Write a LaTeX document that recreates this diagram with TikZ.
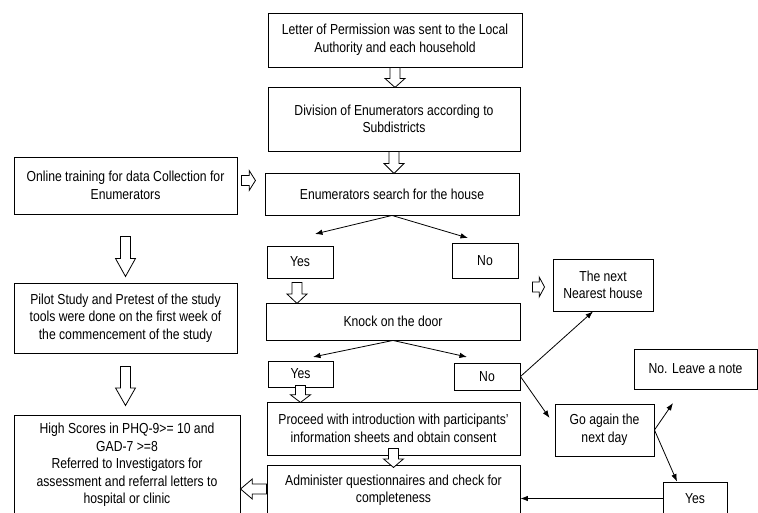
\documentclass[tikz,border=0pt]{standalone}
\usepackage{fontspec}
\setmainfont{Liberation Sans}[FakeStretch=0.84]
\usetikzlibrary{arrows.meta}
\tikzset{
    pics/harrow/.style={code={
        \draw[fill=white,line width=0.8pt](-5,0)--(-5,{0.55*#1})--(-10,{0.55*#1})--(0,#1)
        --(10,{0.55*#1})--(5,{0.55*#1})--(5,0)--cycle;}}
}
\begin{document}
\begin{tikzpicture}[>={Latex[length=7.5pt,width=5.5pt]},x=1pt,y=-1pt,
    box/.style={draw,line width=0.9pt,align=center,inner sep=1pt,
        font=\fontsize{14.5}{17.5}\selectfont},
    link/.style={->,line width=0.8pt}]
        \clip(0,0)rectangle(758,513);
        % middle column
        \node[box,minimum width=254,minimum height=54](letter)at(395,40)
            {Letter of Permission was sent to the Local\\Authority and each household};
        \node[box,minimum width=252,minimum height=64](division)at(394,119)
            {Division of Enumerators according to\\Subdistricts};
        \node[box,minimum width=254,minimum height=42](search)at(392,194)
            {Enumerators search for the house};
        \node[box,minimum width=66,minimum height=32](yes1)at(300,262){Yes};
        \node[box,minimum width=66,minimum height=35](no1)at(485,260.5){No};
        \node[box,minimum width=254,minimum height=37](knock)at(393,321.5){Knock on the door};
        \node[box,minimum width=65,minimum height=26](yes2)at(300.5,374){Yes};
        \node[box,minimum width=66,minimum height=27](no2)at(487,376.5){No};
        \node[box,minimum width=253,minimum height=53](proceed)at(393.5,428.5)
            {Proceed with introduction with participants'\\information sheets and obtain consent};
        \node[box,minimum width=253,minimum height=50](admin)at(393.5,490)
            {Administer questionnaires and check for\\completeness};
        % left column
        \node[box,minimum width=223,minimum height=57](online)at(125.5,185.5)
            {Online training for data Collection for\\Enumerators};
        \node[box,minimum width=223,minimum height=70](pilot)at(125.5,318)
            {Pilot Study and Pretest of the study\\tools were done on the first week of\\the commencement of the study};
        \node[box,minimum width=226,minimum height=100](high)at(127,465)
            {High Scores in PHQ-9>= 10 and\\GAD-7 >=8\\Referred to Investigators for\\assessment and referral letters to\\hospital or clinic};
        % right column
        \node[box,minimum width=100,minimum height=52](nearest)at(603,285){The next\\Nearest house};
        \node[box,minimum width=123,minimum height=40](note)at(695.5,369){No. Leave a note};
        \node[box,minimum width=99,minimum height=52](again)at(604.5,430){Go again the\\next day};
        \node[box,minimum width=64,minimum height=33](yes3)at(695,498.5){Yes};
        % hollow arrows
        \pic at(letter.south){harrow=20};
        \pic at(division.south){harrow=22};
        \pic at([yshift=-22pt]online.south){harrow=40};
        \pic at([yshift=-13pt]pilot.south){harrow=39};
        \pic at([xshift=-3pt,yshift=-4pt]yes1.south){harrow=21};
        \pic at([yshift=2pt]yes2.south){harrow=17};
        \pic at([yshift=7pt]proceed.south){harrow=19};
        \pic[rotate=90] at([xshift=4pt,yshift=5pt]online.east){harrow=14};
        \pic[rotate=90] at([xshift=-20pt,yshift=-2pt]nearest.west){harrow=12};
        \pic[rotate=-90] at([yshift=1pt]admin.west){harrow=26};
        % branches
        \coordinate(syes)at(315,234);
        \coordinate(sno)at(468,238);
        \coordinate(kyes)at(313,357);
        \coordinate(kno)at(467,357);
        \coordinate(tonote)at(673,403);
        \draw[link](search.south)--(syes);
        \draw[link](search.south)--(sno);
        \draw[link](knock.south)--(kyes);
        \draw[link](knock.south)--(kno);
        \draw[link](no2.east)--([xshift=-10pt]nearest.south);
        \draw[link](no2.east)--([xshift=-5pt,yshift=12pt]again.west);
        \draw[link](again.east)--(tonote);
        \draw[link](again.east)--([xshift=-18pt]yes3.north);
        \draw[link](yes3.west)--(admin.east|-yes3.west);
\end{tikzpicture}
\end{document}
